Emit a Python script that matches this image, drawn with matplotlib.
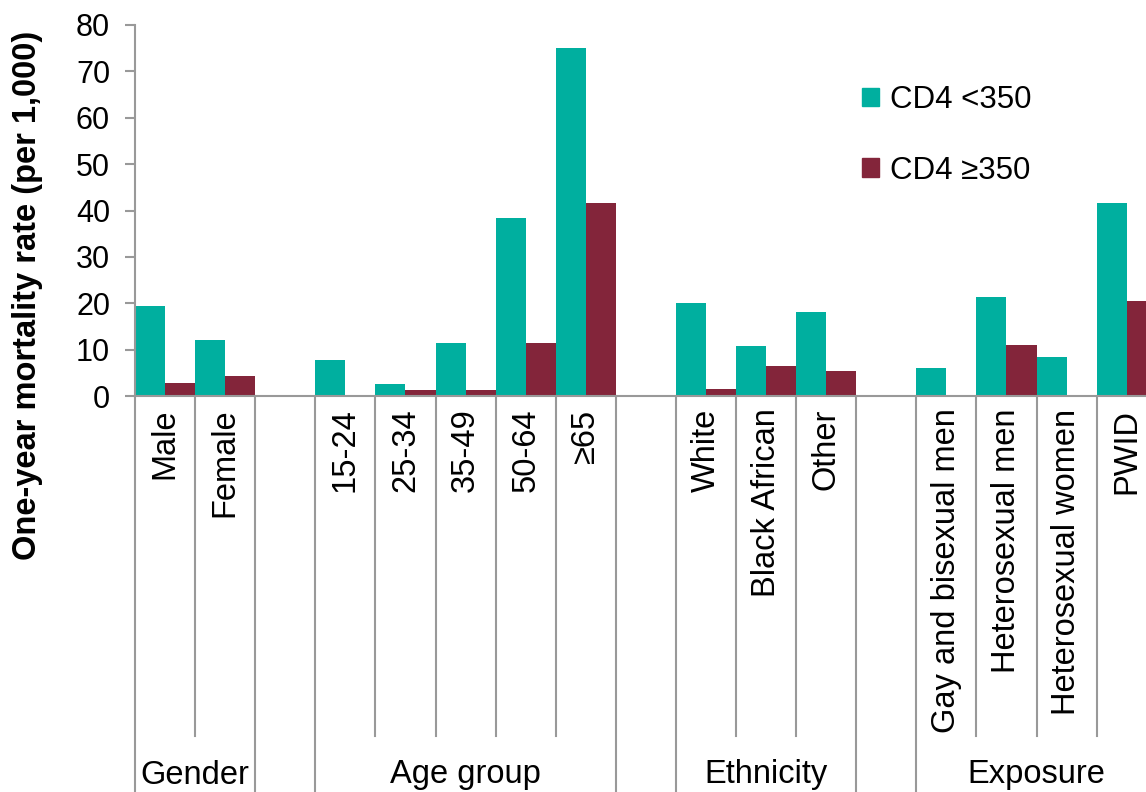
import matplotlib.pyplot as plt
from matplotlib.patches import Patch

plt.rcParams['font.family'] = ['Liberation Sans', 'DejaVu Sans']

# categories per group, with an empty slot between groups
groups = ["Gender", "Age group", "Ethnicity", "Exposure"]
group_cats = [
    ["Male", "Female"],
    ["15-24", "25-34", "35-49", "50-64", "≥65"],
    ["White", "Black African", "Other"],
    ["Gay and bisexual men", "Heterosexual men", "Heterosexual women", "PWID"],
]
cd4_low = [19.3, 12.1, 7.8, 2.5, 11.4, 38.3, 75.0, 20.1, 10.7, 18.2, 6.1, 21.3, 8.5, 41.6]
cd4_high = [2.7, 4.4, 0.0, 1.2, 1.2, 11.5, 41.6, 1.5, 6.5, 5.3, 0.0, 11.1, 0.0, 20.4]

teal = '#00AF9F'
maroon = '#83253A'
grey = '#999999'

# slot positions
positions, labels, group_span = [], [], []
slot = 0
for cats in group_cats:
    start = slot
    for c in cats:
        positions.append(slot)
        labels.append(c)
        slot += 1
    group_span.append((start, slot - 1))
    slot += 1  # gap slot
n_slots = slot - 1

fig = plt.figure(figsize=(11.46, 7.92), dpi=100)
ax = fig.add_axes([135 / 1146, 0.5, 60.1 * n_slots / 1146, (396 - 25) / 792])

ax.bar([p - 0.25 for p in positions], cd4_low, width=0.5, color=teal, label='CD4 <350')
ax.bar([p + 0.25 for p in positions], cd4_high, width=0.5, color=maroon, label='CD4 ≥350')

ax.set_xlim(-0.5, n_slots - 0.5)
ax.set_ylim(0, 80)
ax.set_yticks(range(0, 81, 10))
ax.tick_params(axis='y', labelsize=22, length=7, width=1.5, color=grey, pad=11)
ax.set_xticks(positions)
ax.set_xticklabels(labels, rotation=90, fontsize=23.5, va='top')
ax.tick_params(axis='x', length=0, pad=9)

for s in ['top', 'right']:
    ax.spines[s].set_visible(False)
ax.spines['left'].set_color(grey)
ax.spines['bottom'].set_color(grey)
ax.spines['left'].set_linewidth(1.5)
ax.spines['bottom'].set_linewidth(1.5)

# separators under the axis
trans = ax.get_xaxis_transform()
short_bottom = (396 - 736) / 371
long_bottom = (396 - 800) / 371
long_edges = set()
for a, b in group_span:
    long_edges.add(a - 0.5)
    long_edges.add(b + 0.5)
    for p in range(a, b):
        ax.plot([p + 0.5, p + 0.5], [0, short_bottom], transform=trans,
                color=grey, lw=1.5, clip_on=False)
for e in long_edges:
    ax.plot([e, e], [0, long_bottom], transform=trans, color=grey, lw=1.5, clip_on=False)

for name, (a, b) in zip(groups, group_span):
    ax.text((a + b) / 2, (396 - 775) / 371, name, transform=trans,
            ha='center', va='center', fontsize=23.5)

fig.text(28 / 1146, 1 - 295 / 792, 'One-year mortality rate (per 1,000)',
         rotation=90, ha='center', va='center', fontsize=23.5, fontweight='bold')

handles = [Patch(color=teal), Patch(color=maroon)]
fig.legend(handles, ['CD4 <350', 'CD4 ≥350'], loc='upper left',
           bbox_to_anchor=(834 / 1146, 1 - 57 / 792), frameon=False, fontsize=22.5,
           handlelength=0.55, handleheight=0.55, handletextpad=0.35, labelspacing=1.3)

fig.savefig('out.png', dpi=100)
